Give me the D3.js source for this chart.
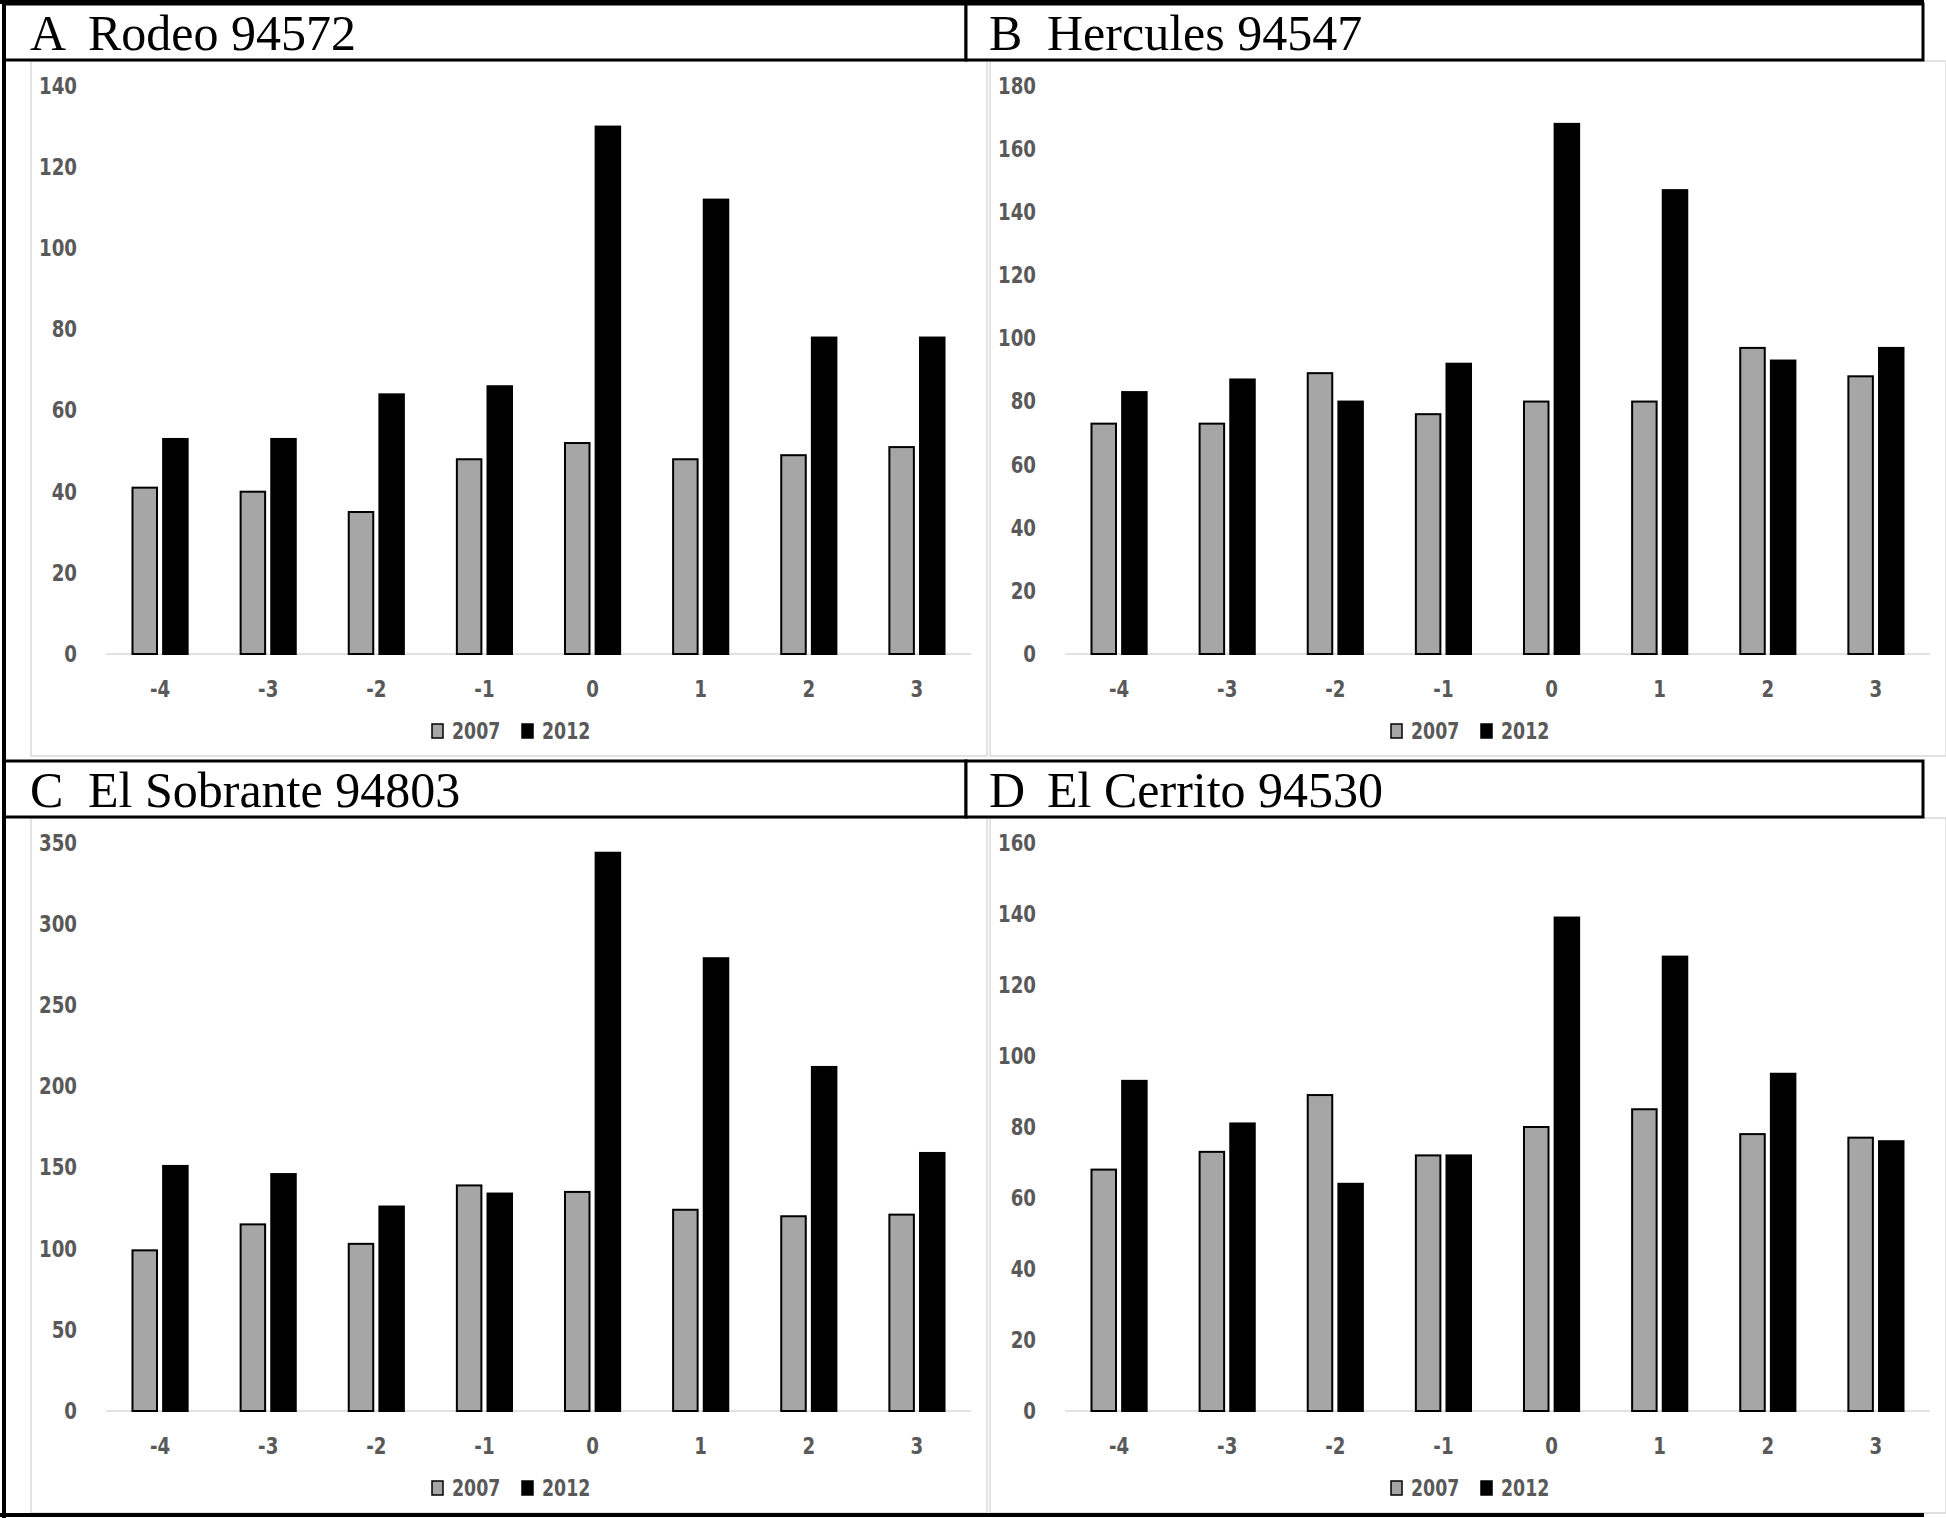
<!DOCTYPE html>
<html>
<head>
<meta charset="utf-8">
<script src="https://cdn.jsdelivr.net/npm/d3@7"></script>
<style>
  html, body { margin: 0; padding: 0; background: #fff; }
  svg { display: block; }
</style>
</head>
<body>
<svg id="chart" width="1946" height="1518"></svg>
<script>
// ---------- DATA ----------
const categories = ["-4", "-3", "-2", "-1", "0", "1", "2", "3"];
const seriesNames = ["2007", "2012"];

const rodeo2007 = [41, 40, 35, 48, 52, 48, 49, 51];
const rodeo2012 = [53, 53, 64, 66, 130, 112, 78, 78];
const rodeoTicks = [0, 20, 40, 60, 80, 100, 120, 140];

const hercules2007 = [73, 73, 89, 76, 80, 80, 97, 88];
const hercules2012 = [83, 87, 80, 92, 168, 147, 93, 97];
const herculesTicks = [0, 20, 40, 60, 80, 100, 120, 140, 160, 180];

const sobrante2007 = [99, 115, 103, 139, 135, 124, 120, 121];
const sobrante2012 = [151, 146, 126, 134, 344, 279, 212, 159];
const sobranteTicks = [0, 50, 100, 150, 200, 250, 300, 350];

const cerrito2007 = [68, 73, 89, 72, 80, 85, 78, 77];
const cerrito2012 = [93, 81, 64, 72, 139, 128, 95, 76];
const cerritoTicks = [0, 20, 40, 60, 80, 100, 120, 140, 160];

const panelLetters = ["A", "B", "C", "D"];
const panelNames = ["Rodeo 94572", "Hercules 94547", "El Sobrante 94803", "El Cerrito 94530"];

// ---------- DRAW ----------
const svg = d3.select("#chart");
const colors = { "2007": "#a6a6a6", "2012": "#000000" };
const tickFont = "'DejaVu Sans Condensed', 'Liberation Sans', sans-serif";
const serifFont = "'Liberation Serif', 'Times New Roman', serif";

const panels = [
  { letter: panelLetters[0], name: panelNames[0], s07: rodeo2007, s12: rodeo2012, ticks: rodeoTicks, dx: 0, dy: 0 },
  { letter: panelLetters[1], name: panelNames[1], s07: hercules2007, s12: hercules2012, ticks: herculesTicks, dx: 959, dy: 0 },
  { letter: panelLetters[2], name: panelNames[2], s07: sobrante2007, s12: sobrante2012, ticks: sobranteTicks, dx: 0, dy: 757 },
  { letter: panelLetters[3], name: panelNames[3], s07: cerrito2007, s12: cerrito2012, ticks: cerritoTicks, dx: 959, dy: 757 }
];

// light gray chart area borders
panels.forEach(p => {
  svg.append("rect")
    .attr("x", 31 + p.dx).attr("y", 61 + p.dy)
    .attr("width", 956).attr("height", 695)
    .attr("fill", "none").attr("stroke", "#d9d9d9").attr("stroke-width", 1.5);
});

panels.forEach(p => {
  const g = svg.append("g").attr("transform", `translate(${p.dx},${p.dy})`);
  const yMax = p.ticks[p.ticks.length - 1];
  const y = d3.scaleLinear().domain([0, yMax]).range([654, 86]);
  const x0 = d3.scaleBand().domain(categories).range([106, 971]).paddingInner(0.49).paddingOuter(0.245);
  const x1 = d3.scaleBand().domain(seriesNames).range([0, x0.bandwidth()]).paddingInner(0.2);

  // baseline
  g.append("line")
    .attr("x1", x0.range()[0]).attr("x2", x0.range()[1])
    .attr("y1", y(0)).attr("y2", y(0))
    .attr("stroke", "#d9d9d9").attr("stroke-width", 1.5);

  // y axis
  const yAxis = d3.axisLeft(y).tickValues(p.ticks).tickSize(0).tickPadding(0).tickFormat(d3.format("d"));
  const ya = g.append("g").attr("transform", "translate(77,0)").call(yAxis);
  ya.select(".domain").remove();
  ya.selectAll("text")
    .attr("x", 0)
    .attr("transform", "scale(0.88,1)")
    .attr("font-family", tickFont).attr("font-size", 23).attr("font-weight", "bold")
    .attr("fill", "#595959");

  // x axis
  const xAxis = d3.axisBottom(x0).tickSize(0).tickPadding(0);
  const xa = g.append("g").attr("transform", `translate(0,${y(0)})`).call(xAxis);
  xa.select(".domain").remove();
  xa.selectAll("text")
    .attr("y", 35).attr("dy", "0.35em")
    .attr("transform", "scale(0.88,1)")
    .attr("font-family", tickFont).attr("font-size", 23).attr("font-weight", "bold")
    .attr("fill", "#595959");

  // bars
  const rows = categories.map((c, i) => ({ cat: c, vals: [
    { s: "2007", v: p.s07[i] }, { s: "2012", v: p.s12[i] } ] }));
  const grp = g.selectAll("g.cat").data(rows).enter().append("g")
    .attr("class", "cat").attr("transform", d => `translate(${x0(d.cat)},0)`);
  grp.selectAll("rect").data(d => d.vals).enter().append("rect")
    .attr("x", d => x1(d.s))
    .attr("y", d => y(d.v))
    .attr("width", x1.bandwidth())
    .attr("height", d => y(0) - y(d.v))
    .attr("fill", d => colors[d.s])
    .attr("stroke", "#000").attr("stroke-width", 2);

  // legend
  const lg = g.append("g").attr("transform", "translate(432,731)");
  seriesNames.forEach((s, i) => {
    const lx = i * 90;
    lg.append("rect").attr("x", lx).attr("y", -7).attr("width", 11).attr("height", 14)
      .attr("fill", colors[s]).attr("stroke", "#000").attr("stroke-width", 1.5);
    lg.append("text")
      .attr("transform", `translate(${lx + 20},0) scale(0.84,1)`)
      .attr("dy", "0.36em")
      .attr("font-family", tickFont).attr("font-size", 23).attr("font-weight", "bold")
      .attr("fill", "#595959").text(s);
  });

  // title box
  const tx = p.dx === 0 ? 4 : 966;
  const tw = p.dx === 0 ? 962 : 957;
  svg.append("rect").attr("x", tx).attr("y", 4 + p.dy).attr("width", tw).attr("height", 56)
    .attr("fill", "#fff").attr("stroke", "#000").attr("stroke-width", 3);
  svg.append("text").attr("x", p.dx + 30).attr("y", 50 + p.dy)
    .attr("font-family", serifFont).attr("font-size", 50).attr("fill", "#000").text(p.letter);
  svg.append("text").attr("x", p.dx + 88).attr("y", 50 + p.dy)
    .attr("font-family", serifFont).attr("font-size", 50).attr("fill", "#000").text(p.name);
});

// outer frame lines
svg.append("line").attr("x1", 4).attr("x2", 4).attr("y1", 0).attr("y2", 1518).attr("stroke", "#000").attr("stroke-width", 4);
svg.append("line").attr("x1", 0).attr("x2", 1924).attr("y1", 2).attr("y2", 2).attr("stroke", "#000").attr("stroke-width", 4);
svg.append("line").attr("x1", 0).attr("x2", 1924).attr("y1", 1515).attr("y2", 1515).attr("stroke", "#000").attr("stroke-width", 4);
</script>
</body>
</html>
